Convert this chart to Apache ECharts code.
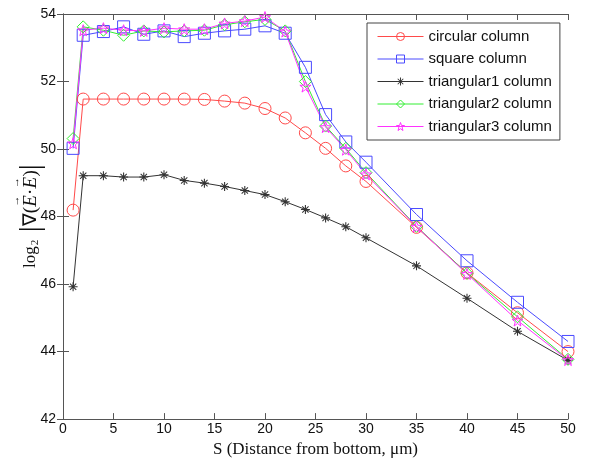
<!DOCTYPE html>
<html>
<head>
<meta charset="utf-8">
<script src="https://cdn.jsdelivr.net/npm/echarts@6/dist/echarts.min.js"></script>
<style>
  html, body { margin: 0; padding: 0; background: #fff; }
  #chart { width: 589px; height: 463px; }
</style>
</head>
<body>
<div id="chart"></div>
<script>
// distance from bottom (um)
var S = [1, 2, 4, 6, 8, 10, 12, 14, 16, 18, 20, 22, 24, 26, 28, 30, 35, 40, 45, 50]

var circular = [48.19, 51.48, 51.48, 51.48, 51.48, 51.48, 51.48, 51.47, 51.42, 51.36, 51.2, 50.92, 50.48, 50.02, 49.5, 49.04, 47.68, 46.33, 45.15, 44.0]
var square = [50.02, 53.37, 53.48, 53.62, 53.4, 53.5, 53.33, 53.43, 53.5, 53.55, 53.65, 53.43, 52.42, 51.02, 50.21, 49.61, 48.06, 46.69, 45.46, 44.3]
var tri1 = [45.92, 49.21, 49.21, 49.17, 49.17, 49.24, 49.07, 48.99, 48.89, 48.77, 48.65, 48.44, 48.21, 47.96, 47.7, 47.37, 46.54, 45.58, 44.6, 43.74]
var tri2 = [50.31, 53.62, 53.52, 53.37, 53.5, 53.47, 53.5, 53.52, 53.68, 53.77, 53.84, 53.5, 52.0, 50.68, 50.02, 49.3, 47.71, 46.32, 45.03, 43.77]
var tri3 = [50.17, 53.52, 53.58, 53.52, 53.5, 53.58, 53.55, 53.55, 53.72, 53.79, 53.91, 53.48, 51.85, 50.65, 49.98, 49.25, 47.7, 46.3, 44.92, 43.75]

var xTicks = [0, 5, 10, 15, 20, 25, 30, 35, 40, 45, 50]
var yTicks = [42, 44, 46, 48, 50, 52, 54]

// asterisk and pentagram marker shapes
var asterisk = 'path://M-0.6,-5L0.6,-5L0.6,5L-0.6,5Z M-5,-0.6L5,-0.6L5,0.6L-5,0.6Z M-3.9,-3.1L-3.1,-3.9L3.9,3.1L3.1,3.9Z M3.1,-3.9L3.9,-3.1L-3.1,3.9L-3.9,3.1Z'
var pentagram = 'path://M0,-10L2.35,-3.24L9.51,-3.09L3.8,1.24L5.88,8.09L0,4L-5.88,8.09L-3.8,1.24L-9.51,-3.09L-2.35,-3.24Z'

function pairs(vals) {
  var out = []
  for (let i = 0; i < S.length; i++) {
    out.push([S[i], vals[i]])
  }
  return out
}

function mkSeries(name, vals, color, symbol, size, filled) {
  return {
    name: name,
    type: 'line',
    data: pairs(vals),
    symbol: symbol,
    symbolSize: size,
    showAllSymbol: true,
    animation: false,
    lineStyle: { color: color, width: 1 },
    itemStyle: filled
      ? { color: color, borderWidth: 0 }
      : { color: 'rgba(255,255,255,0)', borderColor: color, borderWidth: 1 },
    emphasis: { disabled: true },
  }
}

// y title: log2 |grad(E.E)| , vector arrows on a thin first line
var serif = 'Liberation Serif'
var hid = 'rgba(0,0,0,0)'
var yTitle = '{la|log}{sa|2}{ba| |}{na|\u2207(}{ar|\u2192}{na|\u00b7}{ar|\u2192}{na|)}{ba||}\n' +
  '{l|log}{s|2}{b| |}{n|\u2207(}{e|E}{n|\u00b7}{e|E}{n|)}{b||}'
var yTitleRich = {
  la: { fontFamily: serif, fontSize: 17, fill: hid, lineHeight: 8 },
  sa: { fontFamily: serif, fontSize: 11, fill: hid, lineHeight: 8, padding: [0, 0, 0, 1] },
  ba: { fontFamily: serif, fontSize: 30, fill: hid, lineHeight: 8 },
  na: { fontFamily: serif, fontSize: 19, fill: hid, lineHeight: 8 },
  ar: { fontFamily: serif, fontSize: 11, fill: '#111', lineHeight: 8, width: 12, align: 'center' },
  l: { fontFamily: serif, fontSize: 17, fill: '#111', verticalAlign: 'middle', lineHeight: 22 },
  s: { fontFamily: serif, fontSize: 11, fill: '#111', verticalAlign: 'middle', lineHeight: 22, padding: [9, 0, 0, 1] },
  b: { fontFamily: serif, fontSize: 30, fill: '#111', verticalAlign: 'middle', lineHeight: 22 },
  n: { fontFamily: serif, fontSize: 19, fill: '#111', verticalAlign: 'middle', lineHeight: 22 },
  e: { fontFamily: serif, fontStyle: 'italic', fontSize: 19, fill: '#111', verticalAlign: 'middle', lineHeight: 22, width: 12, align: 'center' },
}

var chart = echarts.init(document.getElementById('chart'))

var axisLine = { show: true, lineStyle: { color: '#555', width: 1 } }
var tickIn = { show: true, inside: true, length: 6, lineStyle: { color: '#555' } }

var option = {
  backgroundColor: '#fff',
  grid: { left: 63, right: 21, top: 14, bottom: 42 },
  graphic: [
    {
      type: 'text',
      x: 27,
      y: 268,
      rotation: Math.PI / 2,
      silent: true,
      style: {
        text: yTitle,
        rich: yTitleRich,
        align: 'left',
        verticalAlign: 'middle',
      },
    },
  ],
  legend: {
    orient: 'vertical',
    left: 367,
    top: 23,
    padding: [6, 8, 6, 10],
    itemGap: 7.5,
    itemWidth: 46,
    itemHeight: 10,
    backgroundColor: '#fff',
    borderColor: '#444',
    borderWidth: 1,
    borderRadius: 0,
    lineStyle: { width: 1 },
    itemStyle: { borderWidth: 1 },
    textStyle: { fontFamily: 'Liberation Sans', fontSize: 15, color: '#111' },
    data: ['circular column', 'square column', 'triangular1 column', 'triangular2 column', 'triangular3 column'],
  },
  xAxis: [
    {
      type: 'value',
      min: 0,
      max: 50,
      interval: 5,
      name: 'S (Distance from bottom, \u03bcm)',
      nameLocation: 'middle',
      nameGap: 15,
      nameTextStyle: { fontFamily: 'Liberation Serif', fontSize: 17, color: '#111' },
      axisLine: axisLine,
      axisTick: tickIn,
      axisLabel: {
        margin: 3,
        fontFamily: 'Liberation Sans',
        fontSize: 14,
        color: '#111',
        formatter: function(v) { return xTicks.indexOf(v) >= 0 ? String(v) : '' },
      },
      splitLine: { show: false },
    },
    {
      type: 'value',
      position: 'top',
      min: 0,
      max: 50,
      interval: 5,
      axisLine: axisLine,
      axisTick: tickIn,
      axisLabel: { show: false },
      splitLine: { show: false },
    },
  ],
  yAxis: [
    {
      type: 'value',
      min: 42,
      max: 54,
      interval: 2,
      axisLine: axisLine,
      axisTick: tickIn,
      axisLabel: {
        margin: 7,
        fontFamily: 'Liberation Sans',
        fontSize: 14,
        color: '#111',
        formatter: function(v) { return yTicks.indexOf(v) >= 0 ? String(v) : '' },
      },
      splitLine: { show: false },
    },
    {
      type: 'value',
      position: 'right',
      min: 42,
      max: 54,
      interval: 2,
      axisLine: axisLine,
      axisTick: tickIn,
      axisLabel: { show: false },
      splitLine: { show: false },
    },
  ],
  series: [
    mkSeries('circular column', circular, '#ff4a4a', 'circle', 12, false),
    mkSeries('square column', square, '#4a4aff', 'rect', 12, false),
    mkSeries('triangular1 column', tri1, '#333333', asterisk, 9, true),
    mkSeries('triangular2 column', tri2, '#33ee33', 'diamond', 12, false),
    mkSeries('triangular3 column', tri3, '#ff33ff', pentagram, 11, false),
  ],
}

chart.setOption(option)
</script>
</body>
</html>
